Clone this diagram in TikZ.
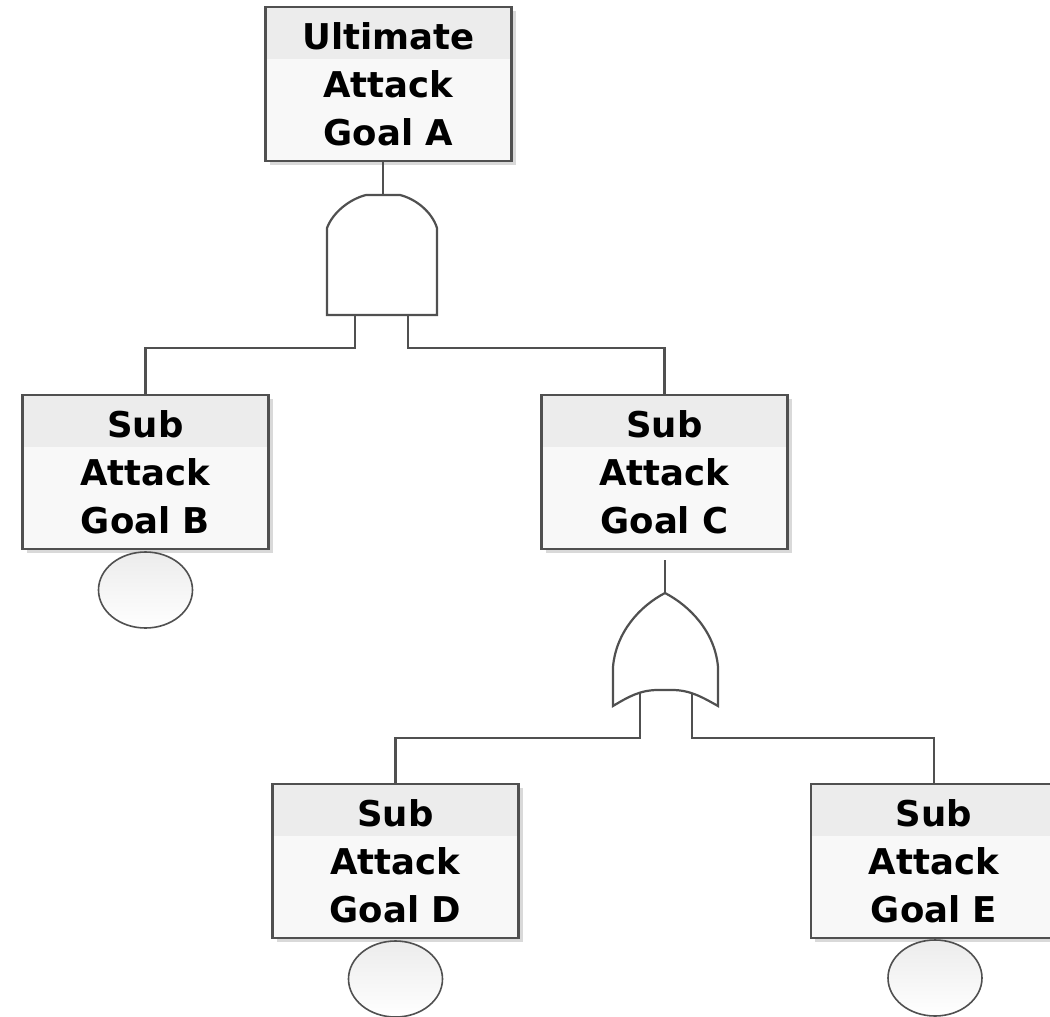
\documentclass[tikz,border=0pt]{standalone}
\usepackage{fontspec}
\setmainfont{DejaVu Sans}
\usetikzlibrary{shapes.geometric,shadows}
\definecolor{edge}{HTML}{505050}
\definecolor{band}{HTML}{ECECEC}
\definecolor{body}{HTML}{F8F8F8}
\begin{document}
\begin{tikzpicture}[x=1pt,y=-1pt,
  goalbox/.style={draw=edge,line width=2.2pt,rectangle,minimum width=246pt,minimum height=154pt,
    inner sep=0pt,align=center,font=\bfseries\fontsize{35.5}{48}\selectfont,
    drop shadow={shadow xshift=4pt,shadow yshift=-4pt,fill=gray!30,opacity=1},
    path picture={
      \fill[body] (path picture bounding box.north west) rectangle (path picture bounding box.south east);
      \fill[band] (path picture bounding box.north west) rectangle ([yshift=-52pt]path picture bounding box.north east);
    }},
  leaf/.style={draw=edge,line width=1.6pt,ellipse,minimum width=94pt,minimum height=76pt,inner sep=0pt,
    top color=band,bottom color=white},
  gate/.style={draw=edge,line width=2.2pt,fill=white,line join=miter},
  wire/.style={draw=edge,line width=2.2pt}
]
\useasboundingbox (0,0) rectangle (1050,1017);
\fill[white] (0,0) rectangle (1050,1017);

% boxes
\node[goalbox] (A) at (388.5,84) {Ultimate\\Attack\\Goal A};
\node[goalbox] (B) at (145.5,472) {Sub\\Attack\\Goal B};
\node[goalbox] (C) at (664.5,472) {Sub\\Attack\\Goal C};
\node[goalbox] (D) at (395.5,861) {Sub\\Attack\\Goal D};
\node[goalbox] (E) at (934,861) {Sub\\Attack\\Goal E};

% leaves
\node[leaf] (eB) at (145.5,590) {};
\node[leaf] (eD) at (395.5,979) {};
\node[leaf] (eE) at (935,978) {};

% gate coordinates
\coordinate (andtop) at (383,195);
\coordinate (andL) at (355,315);
\coordinate (andR) at (408,315);
\coordinate (jAL) at (355,348);
\coordinate (jAR) at (408,348);
\coordinate (ctail) at (665,560);
\coordinate (ortop) at (665,593);
\coordinate (orL) at (640,693);
\coordinate (orR) at (692,693);
\coordinate (jOL) at (640,738);
\coordinate (jOR) at (692,738);

% AND gate
\path[gate] (327,315) -- (327,228) .. controls (333,212) and (350,199) .. (366,195) -- (400,195)
  .. controls (416,199) and (432,212) .. (437,228) -- (437,315) -- cycle;
% OR gate
\path[gate] (613,706) -- (613,667) .. controls (616,632) and (640,606) .. (665,593)
  .. controls (690,606) and (715,632) .. (718,667) -- (718,706)
  .. controls (702,697) and (690,690) .. (672,690) -- (658,690)
  .. controls (640,690) and (628,697) .. (613,706) -- cycle;

% connectors
\draw[wire] (A.south -| andtop) -- (andtop);
\draw[wire] (andL) -- (jAL) -| (B.north);
\draw[wire] (andR) -- (jAR) -| (C.north);
\draw[wire] (ctail) -- (ortop);
\draw[wire] (orL) -- (jOL) -| (D.north);
\draw[wire] (orR) -- (jOR) -| (E.north);
\end{tikzpicture}
\end{document}
